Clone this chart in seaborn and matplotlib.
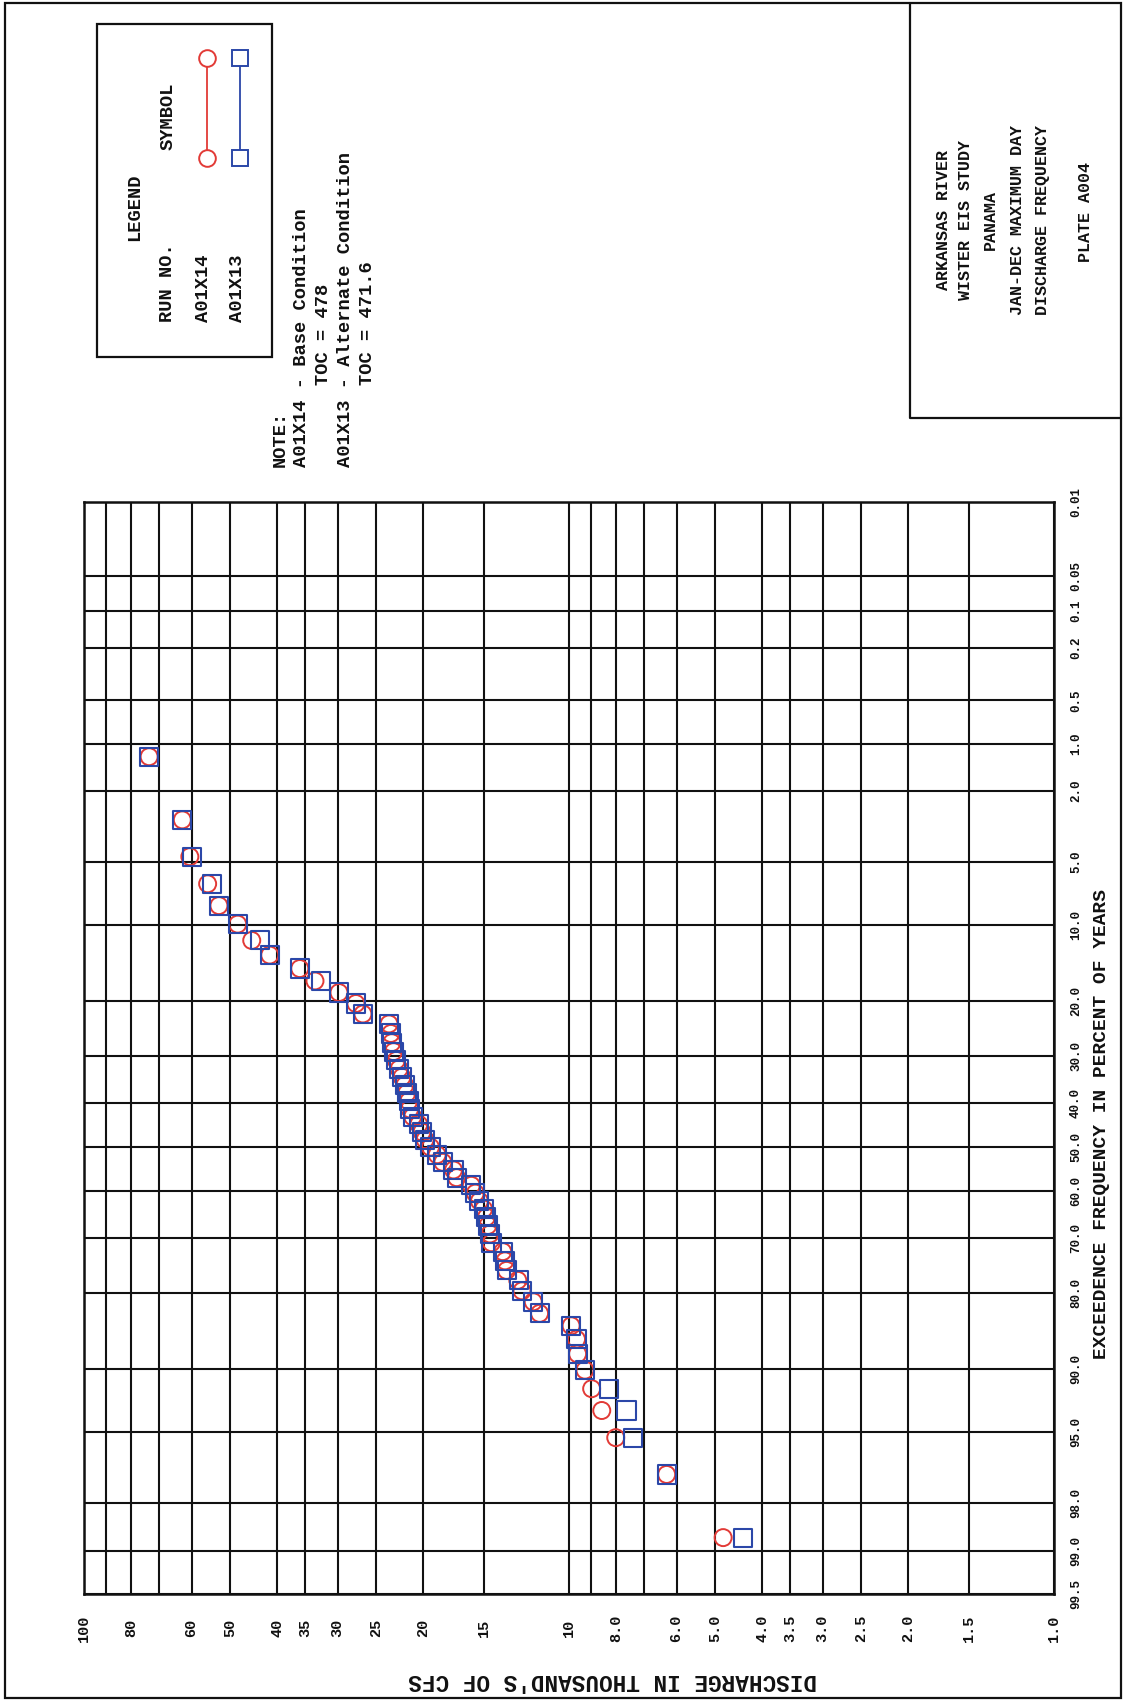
import numpy as np
import matplotlib
matplotlib.use("Agg")
import matplotlib.pyplot as plt
import matplotlib.transforms as mtransforms
from matplotlib.patches import Rectangle
from matplotlib.ticker import NullLocator, NullFormatter
import seaborn as sns
import pandas as pd
from statistics import NormalDist

# ---------------------------------------------------------------- data
# exceedance frequency (percent of years) of each ranked annual maximum
exceedance_pct = [
    1.22, 2.96, 4.70, 6.45, 8.19, 9.93, 11.67, 13.41, 15.16, 16.90,
    18.64, 20.38, 22.13, 23.87, 25.61, 27.35, 29.09, 30.84, 32.58, 34.32,
    36.06, 37.80, 39.55, 41.29, 43.03, 44.77, 46.52, 48.26, 50.00, 51.74,
    53.48, 55.23, 56.97, 58.71, 60.45, 62.20, 63.94, 65.68, 67.42, 69.16,
    70.91, 72.65, 74.39, 76.13, 77.87, 79.62, 81.36, 83.10, 84.84, 86.59,
    88.33, 90.07, 91.81, 93.55, 95.30, 97.04, 98.78,
]

# maximum daily discharge, thousand cfs - base condition
discharge_a01x14 = [
    73.4, 62.7, 60.5, 55.6, 52.7, 48.2, 45.1, 41.4, 35.9, 33.4,
    29.8, 27.5, 26.6, 23.5, 23.3, 23.2, 23.0, 22.7, 22.4, 22.1,
    21.8, 21.6, 21.4, 21.3, 21.0, 20.4, 20.1, 19.8, 19.3, 18.7,
    18.2, 17.3, 17.05, 15.9, 15.6, 15.3, 15.0, 14.8, 14.7, 14.55,
    14.45, 13.7, 13.55, 13.45, 12.75, 12.5, 11.85, 11.5, 9.9, 9.65,
    9.6, 9.27, 8.98, 8.56, 8.01, 6.29, 4.81,
]

# maximum daily discharge, thousand cfs - alternate condition
discharge_a01x13 = [
    73.4, 62.7, 60.0, 54.5, 52.7, 48.2, 43.4, 41.4, 35.9, 32.4,
    29.8, 27.5, 26.6, 23.5, 23.3, 23.2, 23.0, 22.7, 22.4, 22.1,
    21.8, 21.6, 21.4, 21.3, 21.0, 20.4, 20.1, 19.8, 19.3, 18.7,
    18.2, 17.3, 17.05, 15.9, 15.6, 15.3, 15.0, 14.8, 14.7, 14.55,
    14.45, 13.7, 13.55, 13.45, 12.7, 12.5, 11.85, 11.5, 9.9, 9.65,
    9.6, 9.27, 8.26, 7.61, 7.39, 6.29, 4.38,
]

discharge_grid = [100, 90, 80, 70, 60, 50, 40, 35, 30, 25, 20, 15,
                  10, 9, 8, 7, 6, 5, 4, 3.5, 3, 2.5, 2, 1.5, 1]
discharge_ticks = [100, 80, 60, 50, 40, 35, 30, 25, 20, 15, 10,
                   8, 6, 5, 4, 3.5, 3, 2.5, 2, 1.5, 1]
discharge_labels = ["100", "80", "60", "50", "40", "35", "30", "25", "20",
                    "15", "10", "8.0", "6.0", "5.0", "4.0", "3.5", "3.0",
                    "2.5", "2.0", "1.5", "1.0"]
freq_ticks = [0.01, 0.05, 0.1, 0.2, 0.5, 1, 2, 5, 10, 20, 30, 40, 50,
              60, 70, 80, 90, 95, 98, 99, 99.5]
freq_labels = ["0.01", "0.05", "0.1", "0.2", "0.5", "1.0", "2.0", "5.0",
               "10.0", "20.0", "30.0", "40.0", "50.0", "60.0", "70.0",
               "80.0", "90.0", "95.0", "98.0", "99.0", "99.5"]

run_names = ["A01X14", "A01X13"]

# ---------------------------------------------------------------- style
RED = "#e23a36"
BLUE = "#2b47a8"
INK = "#111111"
FONT = ["Liberation Mono", "DejaVu Sans Mono"]

sns.set_style("white")
plt.rcParams["font.family"] = FONT

W, H = 1124, 1703
fig = plt.figure(figsize=(W / 100, H / 100), dpi=100)
fig.patch.set_facecolor("white")


def px_rect(x0, y0, w, h):
    return [x0 / W, 1 - (y0 + h) / H, w / W, h / H]


# ---------------------------------------------------------------- probability scale
_nd = NormalDist()
_ppf = np.vectorize(
    lambda v: _nd.inv_cdf(min(max(v, 1e-7), 100 - 1e-7) / 100.0), otypes=[float])
_cdf = np.vectorize(lambda z: _nd.cdf(z) * 100.0, otypes=[float])


def prob_forward(p):
    return _ppf(np.asarray(p, dtype=float))


def prob_inverse(z):
    return _cdf(np.asarray(z, dtype=float))


# ---------------------------------------------------------------- main plot
AX_L, AX_T, AX_W, AX_H = 84, 502, 970, 1092
ax = fig.add_axes(px_rect(AX_L, AX_T, AX_W, AX_H))
ax.set_facecolor("white")
ax.set_xscale("log")
ax.set_yscale("function", functions=(prob_forward, prob_inverse))

df = pd.DataFrame({
    "exceedance": exceedance_pct * 2,
    "discharge": discharge_a01x14 + discharge_a01x13,
    "run": [run_names[0]] * len(discharge_a01x14) + [run_names[1]] * len(discharge_a01x13),
})

sns.scatterplot(data=df[df["run"] == run_names[0]], x="discharge", y="exceedance",
                marker="o", s=150, facecolor="none", edgecolor=RED,
                linewidth=1.4, ax=ax, zorder=3, legend=False)
sns.scatterplot(data=df[df["run"] == run_names[1]], x="discharge", y="exceedance",
                marker="s", s=170, facecolor="none", edgecolor=BLUE,
                linewidth=1.5, ax=ax, zorder=4, legend=False)

ax.set_xlim(100, 1)
ax.set_ylim(99.5, 0.01)
ax.set_xticks(discharge_grid)
ax.xaxis.set_minor_locator(NullLocator())
ax.xaxis.set_major_formatter(NullFormatter())
ax.xaxis.set_minor_formatter(NullFormatter())
ax.set_yticks(freq_ticks)
ax.yaxis.set_minor_locator(NullLocator())
ax.yaxis.set_major_formatter(NullFormatter())
ax.tick_params(length=0)
ax.grid(True, color=INK, linewidth=1.5)
ax.set_axisbelow(True)
ax.set_xlabel("")
ax.set_ylabel("")
for sp in ax.spines.values():
    sp.set_color(INK)
    sp.set_linewidth(1.8)

# discharge tick labels under the frame
trans_x = mtransforms.blended_transform_factory(ax.transData, ax.transAxes)
lab_y = 1 - (1628 - AX_T) / AX_H
for q, s in zip(discharge_ticks, discharge_labels):
    ax.text(q, lab_y, s, transform=trans_x, rotation=90, rotation_mode="anchor",
            ha="center", va="center", fontsize=11, fontweight="bold",
            color=INK, clip_on=False)

# exceedance tick labels right of the frame
trans_y = mtransforms.blended_transform_factory(ax.transAxes, ax.transData)
lab_x = (1076 - AX_L) / AX_W
for p, s in zip(freq_ticks, freq_labels):
    ax.text(lab_x, p, s, transform=trans_y, rotation=90, rotation_mode="anchor",
            ha="center", va="center", fontsize=9, fontweight="bold",
            color=INK, clip_on=False)

# ---------------------------------------------------------------- page furniture
page = fig.add_axes([0, 0, 1, 1], zorder=5)
page.set_xlim(0, W)
page.set_ylim(H, 0)
page.axis("off")
page.patch.set_alpha(0)


def vtext(x, y, s, size, ha="left", weight="bold"):
    page.text(x, y, s, rotation=90, rotation_mode="anchor", ha=ha, va="center",
              fontsize=size, fontweight=weight, color=INK)


# sheet border
page.add_patch(Rectangle((5, 3), 1116, 1695, fill=False, ec=INK, lw=1.6))

# axis titles
page.text(613, 1680, "DISCHARGE IN THOUSAND'S OF CFS", rotation=180,
          rotation_mode="anchor", ha="center", va="center", fontsize=16.3,
          fontweight="bold", color=INK)
vtext(1102, 1124, "EXCEEDENCE FREQUENCY IN PERCENT OF YEARS", 14, ha="center")

# legend block
page.add_patch(Rectangle((97, 24), 175, 333, fill=False, ec=INK, lw=1.6))
vtext(135, 207, "LEGEND", 13.5, ha="center")
vtext(168, 322, "RUN NO.", 13.5)
vtext(168, 150, "SYMBOL", 13.5)
vtext(203, 322, run_names[0], 13.5)
vtext(237, 322, run_names[1], 13.5)
page.plot([207, 207], [58, 158], color=RED, lw=1.3, marker="o", ms=12,
          mfc="white", mec=RED, mew=1.4)
page.plot([240, 240], [58, 158], color=BLUE, lw=1.3, marker="s", ms=12,
          mfc="white", mec=BLUE, mew=1.4)

# notes
vtext(280, 467, "NOTE:", 13.5)
vtext(302, 467, "A01X14 - Base Condition", 13.5)
vtext(324, 385, "TOC = 478", 13.5)
vtext(345, 467, "A01X13 - Alternate Condition", 13.5)
vtext(367, 385, "TOC = 471.6", 13.5)

# title block
page.plot([910, 910, 1121], [3, 418, 418], color=INK, lw=1.6)
vtext(943, 220, "ARKANSAS RIVER", 12, ha="center")
vtext(965, 220, "WISTER EIS STUDY", 12, ha="center")
vtext(990, 220, "PANAMA", 12, ha="center")
vtext(1018, 220, "JAN-DEC MAXIMUM DAY", 12, ha="center")
vtext(1042, 220, "DISCHARGE FREQUENCY", 12, ha="center")
vtext(1086, 212, "PLATE A004", 12, ha="center")

fig.savefig("out.png", dpi=100, facecolor="white")
